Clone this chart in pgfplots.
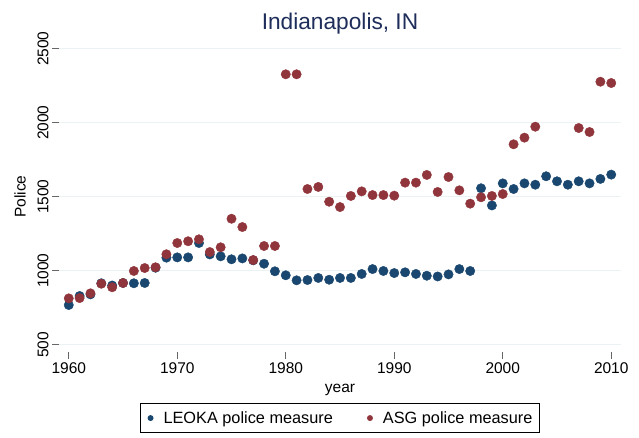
\documentclass[border=0pt]{standalone}
\usepackage{fontspec}
\setmainfont{Liberation Sans}
\usepackage{pgfplots}
\pgfplotsset{compat=1.18}

\definecolor{stblue}{RGB}{26,71,111}
\definecolor{stred}{RGB}{144,53,59}
\definecolor{sttitle}{RGB}{30,45,90}
\definecolor{stgrid}{RGB}{234,242,243}

\pgfplotstableread{
year police
1960 768
1961 829
1962 840
1963 915
1964 900
1965 917
1966 915
1967 917
1968 1020
1969 1088
1970 1090
1971 1090
1972 1187
1973 1110
1974 1097
1975 1077
1976 1083
1977 1070
1978 1047
1979 996
1980 969
1981 935
1982 937
1983 951
1984 939
1985 951
1986 951
1987 978
1988 1011
1989 998
1990 984
1991 989
1992 978
1993 966
1994 961
1995 975
1996 1011
1997 998
1998 1557
1999 1441
2000 1590
2001 1552
2002 1590
2003 1581
2004 1638
2005 1604
2006 1581
2007 1604
2008 1590
2009 1620
2010 1649
}\leoka

\pgfplotstableread{
year police
1960 813
1961 815
1962 847
1963 912
1964 888
1965 917
1966 998
1967 1018
1968 1023
1969 1111
1970 1187
1971 1199
1972 1212
1973 1126
1974 1158
1975 1351
1976 1295
1977 1072
1978 1167
1979 1167
1980 2327
1981 2327
1982 1552
1983 1566
1984 1466
1985 1430
1986 1505
1987 1536
1988 1511
1989 1511
1990 1507
1991 1595
1992 1595
1993 1647
1994 1532
1995 1633
1996 1543
1997 1453
1998 1496
1999 1505
2000 1518
2001 1854
2002 1899
2003 1973
2007 1964
2008 1937
2009 2277
2010 2268
}\asg

\begin{document}
\begin{tikzpicture}
\path[use as bounding box] (0,0) rectangle (639pt,438pt);
\begin{axis}[
    at={(59pt,85.9pt)}, anchor=south west,
    scale only axis,
    width=562pt, height=310.8pt,
    xmin=1959.1, xmax=2010.9,
    ymin=450, ymax=2550,
    xtick={1960,1970,...,2010},
    ytick={500,1000,...,2500},
    axis line style={draw=none},
    xtick pos=bottom, ytick pos=left,
    tick align=outside,
    major tick length=7pt,
    tick style={draw=black!60, line width=0.8pt},
    ymajorgrids,
    major grid style={draw=stgrid, line width=1.3pt},
    /pgf/number format/assume math mode=true,
    /pgf/number format/1000 sep={},
    tick label style={font=\fontsize{15.5}{18}\selectfont},
    yticklabel style={rotate=90, anchor=south},
    xlabel={year},
    ylabel={Police},
    label style={font=\fontsize{15.5}{18}\selectfont},
    xlabel style={at={(axis description cs:0.5,-0.122)}, anchor=center},
    ylabel style={at={(axis description cs:-0.0694,0.5)}, anchor=center},
    title={Indianapolis, IN},
    title style={font=\fontsize{22.7}{26}\selectfont, text=sttitle,
                 at={(axis description cs:0.5,1.039)}, anchor=center},
    legend columns=2,
    legend style={at={(axis description cs:0.5,-0.1638)}, anchor=north,
                  draw=black, line width=0.8pt,
                  font=\fontsize{16.3}{19}\selectfont,
                  inner xsep=5pt, inner ysep=6pt,
                  /tikz/every even column/.append style={column sep=30pt}},
    legend image code/.code={%
        \path[draw=none] (0pt,0pt) -- (16pt,0pt);
        \fill[#1, draw=none] (5pt,0pt) circle (3pt);},
]
\addplot[only marks, mark=*, mark size=4.7pt, color=stblue, mark options={draw=stblue, fill=stblue}]
    table[x=year, y=police] {\leoka};
\addlegendentry{LEOKA police measure}
\addplot[only marks, mark=*, mark size=4.7pt, color=stred, mark options={draw=stred, fill=stred}]
    table[x=year, y=police] {\asg};
\addlegendentry{ASG police measure}
\end{axis}
\end{tikzpicture}
\end{document}
